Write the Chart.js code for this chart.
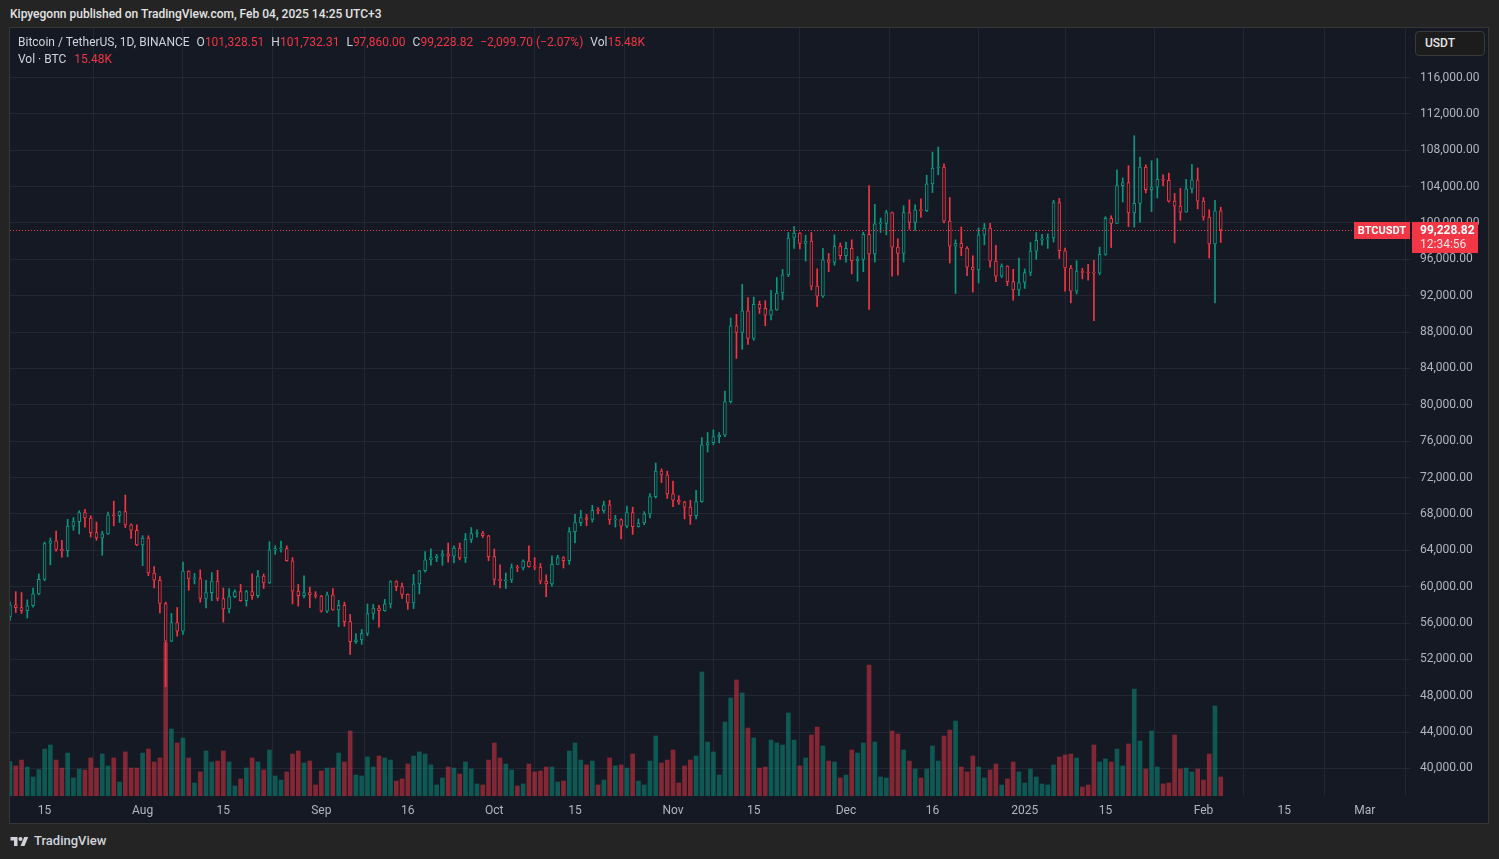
<!DOCTYPE html>
<html>
<head>
<meta charset="utf-8">
<title>BTCUSDT 1D</title>
<script src="https://cdn.jsdelivr.net/npm/chart.js@4/dist/chart.umd.min.js"></script>
<style>
  html, body { margin:0; padding:0; }
  body { width:1499px; height:859px; background:#242424; font-family:Roboto, "Liberation Sans", sans-serif; overflow:hidden; position:relative; }
  #head { position:absolute; left:10px; top:6px; font-size:12px; line-height:16px; color:#e3e3e3; font-weight:500; }
  #frame { position:absolute; left:9px; top:27px; width:1478px; height:795px; border:1px solid #363636; background:#151924; }
  #chart { position:absolute; left:0; top:0; }
  #legend { position:absolute; left:8px; top:6px; font-size:12px; line-height:17px; color:#d1d4dc; pointer-events:none; white-space:nowrap; }
  #legend .v { color:#f23645; }
  #legend .g { margin-left:7px; }
  #unit { position:absolute; left:1405px; top:3px; width:68px; height:23px; border:1px solid #3a3a3a; border-radius:4px; background:#1c1c1c; color:#e6e6e6; font-size:12px; line-height:23px; font-weight:500; }
  #unit span { margin-left:9px; }
  #foot { position:absolute; left:10px; top:833px; display:flex; align-items:center; color:#d1d4dc; font-size:13px; font-weight:500; }
  #foot svg { margin-right:5px; }
</style>
</head>
<body>
<div id="head">Kipyegonn published on TradingView.com, Feb 04, 2025 14:25 UTC+3</div>
<div id="frame">
  <canvas id="chart" width="1478" height="795"></canvas>
  <div id="legend">
    <div>Bitcoin / TetherUS, 1D, BINANCE<span class="g">O</span><span class="v">101,328.51</span><span class="g">H</span><span class="v">101,732.31</span><span class="g">L</span><span class="v">97,860.00</span><span class="g">C</span><span class="v">99,228.82</span><span class="g v">−2,099.70 (−2.07%)</span><span class="g">Vol</span><span class="v">15.48K</span></div>
    <div>Vol · BTC<span class="v" style="margin-left:8px">15.48K</span></div>
  </div>
  <div id="unit"><span>USDT</span></div>
</div>
<div id="foot">
  <svg width="19" height="12" viewBox="0 0 36 24"><path fill="#d1d4dc" d="M14 22H7V11H0V4h14v18z"/><circle fill="#d1d4dc" cx="20" cy="8" r="4"/><path fill="#d1d4dc" d="M28 22h-8l7.5-18h8L28 22z"/></svg>
  <span>TradingView</span>
</div>
<script>
// daily candles, Jul 9 2024 .. Feb 4 2025 (BINANCE BTCUSDT, 1D)
const opens = [
  56700,58000,57700,57350,57900,59200,60800,64750,65050,64100,63950,66650,67150,68150,67550,65950,65350,65800,67900,67800,68250,66800,66200,
  64600,65350,61500,60700,58150,54000,56050,55100,61700,60850,60900,58700,59350,60600,58700,57550,58900,59450,58450,59450,59000,61150,60400,64050,64150,64200,62850,59500,59000,59350,59100,
  58950,57300,59100,57450,57950,56150,53950,54150,54850,57050,57650,57350,58100,60550,60000,59150,58200,60300,61750,62950,63200,63350,63600,63350,64250,63150,65200,65850,65880,65600,
  63300,60800,60650,60750,62100,62050,62800,62200,62150,60600,60300,62450,63200,62850,66050,67050,67600,67400,68400,68350,69000,67350,67380,66650,68150,66600,67000,68000,69900,72700,72300,
  70200,69500,69300,68750,67800,69350,75600,75850,76500,76650,80350,88700,87950,90350,87300,91050,90600,89850,90450,92300,94300,98350,98900,97750,98000,93050,91950,95950,95650,97450,
  96400,97200,95850,96000,98750,96600,99900,99950,101150,97350,96650,101150,100050,101450,101350,104300,106050,106150,100200,97450,97750,97250,95150,94850,98700,99450,95800,94150,95250,93550,92650,
  93450,94550,96900,98100,98250,98350,102250,96950,95050,92500,94700,94550,94500,94480,96550,100500,99950,104100,104450,101100,102150,106150,103650,103950,104800,104700,102400,101850,101200,103750,104750,
  102400,100650,97700,101328.51
];
const highs = [
  58300,59450,59350,58550,59850,61400,64900,65350,66100,65100,67400,67600,68350,68500,67800,67100,66100,68200,69400,68300,70080,66900,66800,
  65600,65600,62200,61100,58300,57050,57700,62700,61750,61450,61850,60700,61550,61800,59850,59800,59650,60250,59600,61400,61800,61400,64950,64500,65000,64500,63200,60250,61200,59950,59450,
  59050,59400,59800,58500,58300,56950,54850,55300,58100,58050,57950,58600,60650,60650,60400,59200,61350,61800,63850,64150,63550,64000,64800,64500,64800,65850,66500,66250,66100,65650,
  64150,62400,61500,62500,62350,62950,64500,63200,62550,61300,63400,63450,63300,66500,67950,68400,67950,68950,68700,69400,69500,67850,67450,68850,68750,67450,68250,70250,73600,72950,72700,
  71600,70000,69400,69500,70600,76400,76950,77250,76950,81500,89550,89950,93250,91800,91850,91400,91450,92600,94000,94900,98950,99600,98950,98650,98950,94950,97200,96650,98700,97800,
  97900,98150,96300,99000,104100,102050,100550,101400,101200,98250,101900,102550,102000,102650,105250,107800,108350,106500,102800,98150,99550,97400,96400,99450,99950,99950,97550,95500,95300,94900,96150,
  94950,97850,98950,98750,98800,102500,102700,97250,95350,95850,95000,95450,95900,97350,100700,100800,105850,104950,106300,109600,107250,106400,106850,107100,105300,105500,103250,103800,104800,106450,106050,
  102800,101450,102500,101732.31
];
const lows = [
  56300,57150,57050,56550,57750,59100,60650,62400,63900,63250,63300,66200,65800,66550,65450,65100,63450,65750,66700,67050,66500,65300,64500,
  62300,61200,59850,57100,49000,53950,54550,54750,59600,60300,58300,57650,58450,58450,56100,57100,58800,58400,57850,58600,58800,59800,60350,63550,63800,62800,58100,57850,58750,57700,58750,
  57200,57150,57400,55600,55650,52550,53750,53650,54600,56400,55550,57300,57650,59550,58700,57500,57600,59200,61600,62350,62750,62350,62700,62600,62950,62650,64850,65450,65400,62850,
  60200,59850,59800,60450,61650,61850,62150,61850,60300,58900,60050,62450,62050,62450,64800,66700,66700,67100,68000,68100,66850,66550,65250,66450,65750,66550,66800,67550,69750,71450,69700,
  68800,69050,67450,66850,67450,69300,74800,75600,75800,76500,80200,85100,86100,86650,87100,90050,88700,89350,90400,91550,94100,97200,97150,95800,92650,90800,91800,94650,95350,96000,
  95700,94400,93600,94650,90500,95700,98950,98700,94150,94250,95700,99300,99200,100600,101250,103350,105300,100000,95600,92250,96400,94200,92400,93400,97600,95150,93550,94000,93100,91500,92000,
  92800,94200,96000,97550,97200,97900,96100,92500,91200,92200,93850,93700,89250,94300,96450,97300,99950,102300,99600,99550,100100,103300,101250,102750,104100,102300,97800,100300,101200,103300,101550,
  100300,96150,91200,97860
];
const closes = [
  58000,57700,57350,57900,59200,60800,64750,65050,64100,63950,66650,67150,68150,67550,65950,65350,65800,67900,67800,68250,66800,66200,64600,
  65350,61500,60700,58150,54000,56050,55100,61700,60850,60900,58700,59350,60600,58700,57550,58900,59450,58450,59450,59000,61150,60400,64050,64150,64200,62850,59500,59000,59350,59100,58950,
  57300,59100,57450,57950,56150,53950,54150,54850,57050,57650,57350,58100,60550,60000,59150,58200,60300,61750,62950,63200,63350,63600,63350,64250,63150,65200,65850,65880,65600,63300,
  60800,60650,60750,62100,62050,62800,62200,62150,60600,60300,62450,63200,62850,66050,67050,67600,67400,68400,68350,69000,67350,67380,66650,68150,66600,67000,68000,69900,72700,72300,70200,
  69500,69300,68750,67800,69350,75600,75850,76500,76650,80350,88700,87950,90350,87300,91050,90600,89850,90450,92300,94300,98350,98900,97750,98000,93050,91950,95950,95650,97450,96400,
  97200,95850,96000,98750,96600,99900,99950,101150,97350,96650,101150,100050,101450,101350,104300,106050,106150,100200,97450,97750,97250,95150,94850,98700,99450,95800,94150,95250,93550,92650,93450,
  94550,96900,98100,98250,98350,102250,96950,95050,92500,94700,94550,94500,94480,96550,100500,99950,104100,104450,101100,102150,106150,103650,103950,104800,104700,102400,101850,101200,103750,104750,102400,
  100650,97700,101328.51,99228.82
];
// volume, thousands of BTC
const volumes = [
  28.0,24.5,29.3,23.6,15.5,21.5,38.3,41.6,29.3,22.8,35.0,14.7,22.0,21.2,31.0,22.8,34.2,24.5,31.0,11.4,35.9,22.8,22.8,
  35.0,38.3,27.7,31.0,125.0,54.6,43.2,47.3,31.0,10.6,19.6,36.7,27.7,28.5,36.7,27.7,8.2,13.9,22.8,31.0,27.7,21.2,37.5,16.3,13.0,19.6,34.2,36.7,26.9,28.5,9.0,
  20.4,22.8,22.8,35.0,27.7,53.0,17.1,16.3,31.8,23.6,32.6,31.0,29.3,12.2,13.9,26.1,32.6,35.9,34.2,25.3,9.0,14.7,23.6,22.8,17.9,27.7,22.0,9.8,9.0,29.3,
  43.2,31.0,26.1,21.2,8.2,9.8,26.1,19.6,20.4,23.6,23.6,11.4,12.2,36.7,43.2,29.3,25.3,28.5,9.0,13.0,31.0,24.5,25.3,22.8,34.2,12.2,9.0,28.5,48.9,26.9,29.3,
  37.5,10.6,24.5,29.3,32.6,101.1,44.0,35.9,17.1,60.3,79.9,94.6,84.0,55.4,47.3,22.8,23.6,45.6,43.2,41.6,67.7,45.6,24.5,31.0,49.7,56.2,40.8,28.5,27.7,14.7,
  17.1,37.5,35.0,43.2,106.8,44.0,15.5,14.7,53.0,50.5,37.5,28.5,22.0,14.7,22.0,40.8,28.5,48.9,53.8,61.1,23.6,19.6,32.6,23.6,14.7,21.2,26.1,9.0,13.9,27.7,19.6,
  10.6,22.0,15.5,9.8,9.0,25.3,31.8,33.4,34.2,31.0,7.3,9.0,41.6,27.7,30.2,27.7,38.3,24.5,42.4,87.2,44.8,22.0,53.0,23.6,9.8,10.6,49.7,22.0,22.8,19.6,22.0,
  13.0,34.2,73.4,15.48
];

const priceTicks = [40000,44000,48000,52000,56000,60000,64000,68000,72000,76000,80000,84000,88000,92000,96000,100000,104000,108000,112000,116000];
const xTickDates = ['2024-07-15','2024-08-01','2024-08-15','2024-09-01','2024-09-16','2024-10-01','2024-10-15','2024-11-01','2024-11-15','2024-12-01','2024-12-16','2025-01-01','2025-01-15','2025-02-01','2025-02-15','2025-03-01'];
const xTickText  = ['15','Aug','15','Sep','16','Oct','15','Nov','15','Dec','16','2025','15','Feb','15','Mar'];
const lastPrice = 99228.82;
const countdown = '12:34:56';

// category per day, with empty days to the right of the last candle
const dates = [];
const firstDay = Date.UTC(2024, 6, 9);
for (let i = 0; i < 244; i++) dates.push(new Date(firstDay + i * 86400000).toISOString().slice(0, 10));
const xTickMap = {};
xTickDates.forEach((d, i) => { xTickMap[d] = xTickText[i]; });

const UP = '#089981', DOWN = '#f23645', BG = '#151924';
const candleColors = closes.map((c, i) => c >= opens[i] ? UP : DOWN);
const volColors = closes.map((c, i) => c >= opens[i] ? 'rgba(8,153,129,0.5)' : 'rgba(242,54,69,0.5)');
const wickData = lows.map((l, i) => [l, highs[i]]);
const bodyData = opens.map((o, i) => [Math.min(o, closes[i]), Math.max(o, closes[i])]);

const priceLine = {
  id: 'priceLine',
  afterDatasetsDraw(chart) {
    const ctx = chart.ctx, a = chart.chartArea;
    const py = Math.round(chart.scales.y.getPixelForValue(lastPrice)) + 0.5;
    ctx.save();
    ctx.strokeStyle = DOWN;
    ctx.lineWidth = 1;
    ctx.setLineDash([1, 2]);
    ctx.beginPath();
    ctx.moveTo(a.left, py);
    ctx.lineTo(a.right, py);
    ctx.stroke();
    ctx.restore();
  },
  afterDraw(chart) {
    const ctx = chart.ctx, a = chart.chartArea;
    const py = Math.round(chart.scales.y.getPixelForValue(lastPrice));
    ctx.save();
    ctx.fillStyle = DOWN;
    ctx.fillRect(a.right - 57, py - 8, 56, 17);
    ctx.fillRect(a.right + 1, py - 8, 66, 31);
    ctx.fillStyle = '#ffffff';
    ctx.textBaseline = 'middle';
    ctx.font = 'bold 11px Roboto, sans-serif';
    ctx.textAlign = 'center';
    ctx.fillText('BTCUSDT', a.right - 29, py + 1);
    ctx.textAlign = 'left';
    ctx.font = 'bold 12px Roboto, sans-serif';
    ctx.fillText(lastPrice.toLocaleString('en-US', {minimumFractionDigits: 2}), a.right + 9, py + 1);
    ctx.fillStyle = 'rgba(255,255,255,0.85)';
    ctx.font = '12px Roboto, sans-serif';
    ctx.fillText(countdown, a.right + 9, py + 15);
    ctx.restore();
  }
};

Chart.defaults.font.family = 'Roboto, "Liberation Sans", sans-serif';
Chart.defaults.font.size = 12;

new Chart(document.getElementById('chart'), {
  type: 'bar',
  data: {
    labels: dates,
    datasets: [
      { label: 'Body', data: bodyData, yAxisID: 'y', order: 1, grouped: false, barThickness: 3,
        borderWidth: 1, borderSkipped: false, minBarLength: 1, backgroundColor: BG, borderColor: candleColors },
      { label: 'Wick', data: wickData, yAxisID: 'y', order: 2, grouped: false, barThickness: 1,
        borderWidth: 0, backgroundColor: candleColors },
      { label: 'Vol', data: volumes, yAxisID: 'vol', order: 3, grouped: false, barThickness: 4,
        borderWidth: 0, backgroundColor: volColors }
    ]
  },
  options: {
    responsive: false,
    animation: false,
    events: [],
    layout: { padding: 0 },
    plugins: { legend: { display: false }, tooltip: { enabled: false } },
    scales: {
      x: {
        offset: false,
        grid: { color: '#232733', drawTicks: false },
        border: { display: false },
        ticks: {
          autoSkip: false, maxRotation: 0, minRotation: 0, padding: 8, color: '#b2b5be',
          callback(v) { const t = xTickMap[this.getLabelForValue(v)]; return t === undefined ? null : t; }
        },
        afterFit(s) { s.height = 27; s.paddingLeft = 0; s.paddingRight = 0; }
      },
      y: {
        position: 'right',
        min: 36975, max: 121445,
        grid: { color: '#232733', drawTicks: false },
        border: { display: false },
        afterBuildTicks(s) { s.ticks = priceTicks.map(v => ({ value: v })); },
        ticks: {
          padding: 9, color: '#b2b5be',
          callback: v => v.toLocaleString('en-US', { minimumFractionDigits: 2, maximumFractionDigits: 2 })
        },
        afterFit(s) { s.width = 77; s.paddingTop = 0; s.paddingBottom = 0; }
      },
      vol: { display: false, min: 0, max: 626 }
    }
  },
  plugins: [priceLine]
});
</script>
</body>
</html>
